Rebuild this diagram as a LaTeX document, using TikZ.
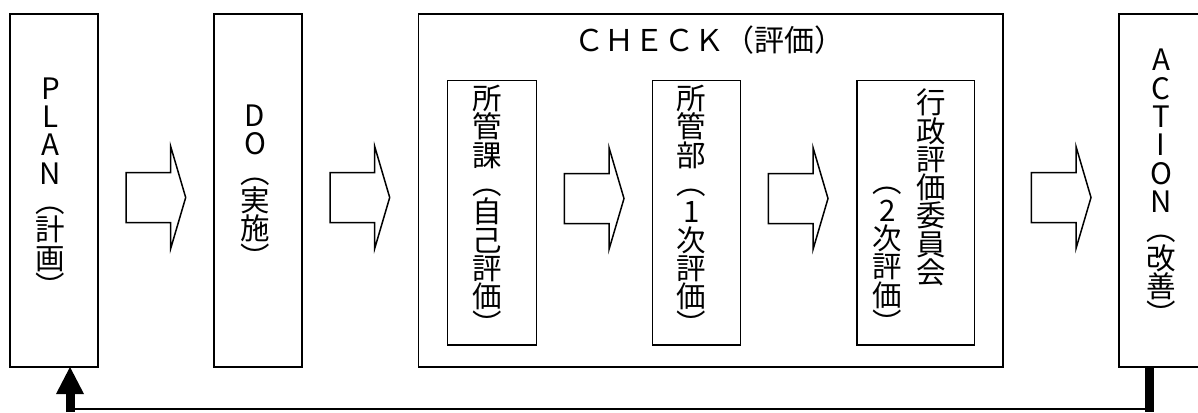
\documentclass[tikz,border=0pt]{standalone}
\usepackage{fontspec}
\setmainfont{Noto Sans CJK JP}
\usetikzlibrary{arrows.meta}
\tikzset{
  box/.style={draw, line width=1.5pt, inner sep=0pt, outer sep=0pt},
  vlabel/.style={align=center, inner sep=0pt, font=\fontsize{29.5pt}{28.3pt}\selectfont},
  title/.style={inner sep=0pt, font=\fontsize{30pt}{32pt}\selectfont},
  blk/.style={draw, line width=1.5pt, fill=white, line join=miter},
  fbthick/.style={line width=9pt},
  fbthin/.style={line width=2pt},
}
\newcommand\blockarr[2]{%
  \draw[blk] (#1,#2-25) -- (#1+44.7,#2-25) -- (#1+44.7,#2-51) -- (#1+59.7,#2)
    -- (#1+44.7,#2+51) -- (#1+44.7,#2+25) -- (#1,#2+25) -- cycle;}
\begin{document}
\begin{tikzpicture}[x=1pt,y=-1pt]
\useasboundingbox (0,0) rectangle (1198,412);
\clip (0,0) rectangle (1198,412);
% main boxes
\node[box, minimum width=88pt, minimum height=353pt] (plan) at (54,190.5) {};
\node[box, minimum width=88pt, minimum height=353pt] (do) at (258,190.5) {};
\node[box, minimum width=584.3pt, minimum height=353pt] (check) at (710.85,190.5) {};
\node[box, minimum width=88pt, minimum height=353pt] (action) at (1163,190.5) {};
% inner boxes
\node[box, minimum width=88.6pt, minimum height=264.7pt] (self) at (492,212.65) {};
\node[box, minimum width=88.4pt, minimum height=264.7pt] (dept) at (696.5,212.65) {};
\node[box, minimum width=117.3pt, minimum height=264.7pt] (comm) at (915.65,212.65) {};
% labels
\node[vlabel] (planlbl) at (50.5,187.5) {P\\L\\A\\N\\︵\\計\\画\\︶};
\node[vlabel] (dolbl) at (255,186.5) {D\\O\\︵\\実\\施\\︶};
\node[vlabel] (actlbl) at (1161,187.5) {A\\C\\T\\I\\O\\N\\︵\\改\\善\\︶};
\node[vlabel] (selflbl) at (487.3,210.5) {所\\管\\課\\︵\\自\\己\\評\\価\\︶};
\node[vlabel] (deptlbl) at (691.7,210.5) {所\\管\\部\\︵\\1\\次\\評\\価\\︶};
\node[vlabel] (commlbl) at (931.7,187.5) {行\\政\\評\\価\\委\\員\\会};
\node[vlabel] (comm2lbl) at (887.3,261) {︵\\2\\次\\評\\価\\︶};
\node[title] (checklbl) at (709,40) {ＣＨＥＣＫ（評価）};
% block arrows
\blockarr{126}{197.5}
\blockarr{330}{197.5}
\blockarr{564.3}{198.5}
\blockarr{768.3}{198.5}
\blockarr{1031.3}{197.5}
% feedback
\coordinate (fbR) at (1149.5,412);
\coordinate (fbL) at (70,412);
\draw[fbthick] ([xshift=30.5pt]action.south west) -- (fbR);
\draw[fbthin] ([yshift=3.5pt]fbR) -- ([yshift=3.5pt]fbL);
\draw[fbthick, -{Triangle[length=27pt,width=28pt,line width=0pt]}] (fbL) -- ([xshift=60pt]plan.south west);
\end{tikzpicture}
\end{document}
